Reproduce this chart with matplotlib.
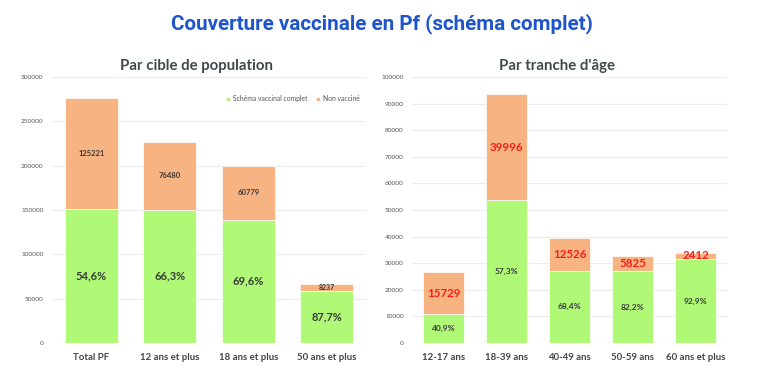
import matplotlib
matplotlib.use("Agg")
import matplotlib.pyplot as plt
import numpy as np

# Left chart: par cible de population
pop_categories = ["Total PF", "12 ans et plus", "18 ans et plus", "50 ans et plus"]
pop_vaccinated = [150600, 150460, 139150, 58730]
pop_unvaccinated = [125221, 76480, 60779, 8237]
pop_pct_labels = ["54,6%", "66,3%", "69,6%", "87,7%"]

# Right chart: par tranche d'âge
age_categories = ["12-17 ans", "18-39 ans", "40-49 ans", "50-59 ans", "60 ans et plus"]
age_vaccinated = [10885, 53670, 27110, 26900, 31560]
age_unvaccinated = [15729, 39996, 12526, 5825, 2412]
age_pct_labels = ["40,9%", "57,3%", "68,4%", "82,2%", "92,9%"]

left_yticks = [0, 50000, 100000, 150000, 200000, 250000, 300000]
right_yticks = [0, 10000, 20000, 30000, 40000, 50000, 60000, 70000, 80000, 90000, 100000]

GREEN = "#b0f977"
ORANGE = "#f8b382"
DARK = "#3a3a3a"
FONT = "Lato"

fig = plt.figure(figsize=(7.58, 3.91), dpi=100)
fig.patch.set_facecolor("white")

fig.text(0.504, 0.94, "Couverture vaccinale en Pf (schéma complet)",
         ha="center", va="center", fontsize=14.9, fontweight="bold",
         color="#1d55cc", family="Roboto")

def style_axes(ax, ymax, yticks, categories):
    ax.set_ylim(0, ymax)
    ax.set_yticks(yticks)
    ax.set_yticklabels([str(t) for t in yticks], fontsize=4.6, color="#555555", family=FONT)
    ax.set_xlim(-0.5, len(categories) - 0.5)
    ax.set_xticks(np.arange(len(categories)))
    ax.set_xticklabels(categories, fontsize=6.9, color="#444444", family=FONT, fontweight="bold")
    ax.grid(axis="y", color="#ececec", linewidth=0.8)
    ax.set_axisbelow(True)
    for s in ax.spines.values():
        s.set_visible(False)
    ax.tick_params(axis="both", length=0)
    ax.tick_params(axis="y", pad=6)
    ax.tick_params(axis="x", pad=7)

# Left axes
axL = fig.add_axes([52 / 758, (391 - 343) / 391, 314 / 758, 266 / 391])
x = np.arange(len(pop_categories))
axL.bar(x, pop_vaccinated, width=0.67, color=GREEN, edgecolor="white", linewidth=0.5,
        label="Schéma vaccinal complet")
axL.bar(x, pop_unvaccinated, width=0.67, bottom=pop_vaccinated, color=ORANGE,
        edgecolor="white", linewidth=0.5, label="Non vacciné")
style_axes(axL, 300000, left_yticks, pop_categories)
for i in range(len(pop_categories)):
    axL.text(x[i], pop_vaccinated[i] / 2, pop_pct_labels[i], ha="center", va="center",
             fontsize=8, fontweight="bold", color=DARK, family=FONT)
    fs = 5.5 if pop_unvaccinated[i] > 20000 else 5
    axL.text(x[i], pop_vaccinated[i] + pop_unvaccinated[i] / 2, str(pop_unvaccinated[i]),
             ha="center", va="center", fontsize=fs, fontweight="bold", color=DARK, family=FONT)
leg = axL.legend(loc="upper right", bbox_to_anchor=(1.0, 0.955), ncol=2, frameon=False,
                 prop={"family": FONT, "size": 4.9}, handlelength=0.6, handleheight=0.6,
                 handletextpad=0.4, columnspacing=1.3, borderaxespad=0.5)
for t in leg.get_texts():
    t.set_color("#555555")
fig.text((120 + 272) / 2 / 758, 1 - 66 / 391, "Par cible de population", ha="center",
         va="center", fontsize=10.8, fontweight="bold", color="#414a4a", family=FONT)

# Right axes
axR = fig.add_axes([412 / 758, (391 - 343) / 391, 315 / 758, 266 / 391])
xr = np.arange(len(age_categories))
axR.bar(xr, age_vaccinated, width=0.66, color=GREEN, edgecolor="white", linewidth=0.5)
axR.bar(xr, age_unvaccinated, width=0.66, bottom=age_vaccinated, color=ORANGE,
        edgecolor="white", linewidth=0.5)
style_axes(axR, 100000, right_yticks, age_categories)
for i in range(len(age_categories)):
    axR.text(xr[i], age_vaccinated[i] / 2, age_pct_labels[i], ha="center", va="center",
             fontsize=6, fontweight="bold", color=DARK, family=FONT)
    axR.text(xr[i], age_vaccinated[i] + age_unvaccinated[i] / 2, str(age_unvaccinated[i]),
             ha="center", va="center", fontsize=8.3, fontweight="bold", color="#ff1a1a", family=FONT)
fig.text(557 / 758, 1 - 66 / 391, "Par tranche d'âge", ha="center",
         va="center", fontsize=10.8, fontweight="bold", color="#414a4a", family=FONT)

fig.savefig("out.png", dpi=100, facecolor="white")
